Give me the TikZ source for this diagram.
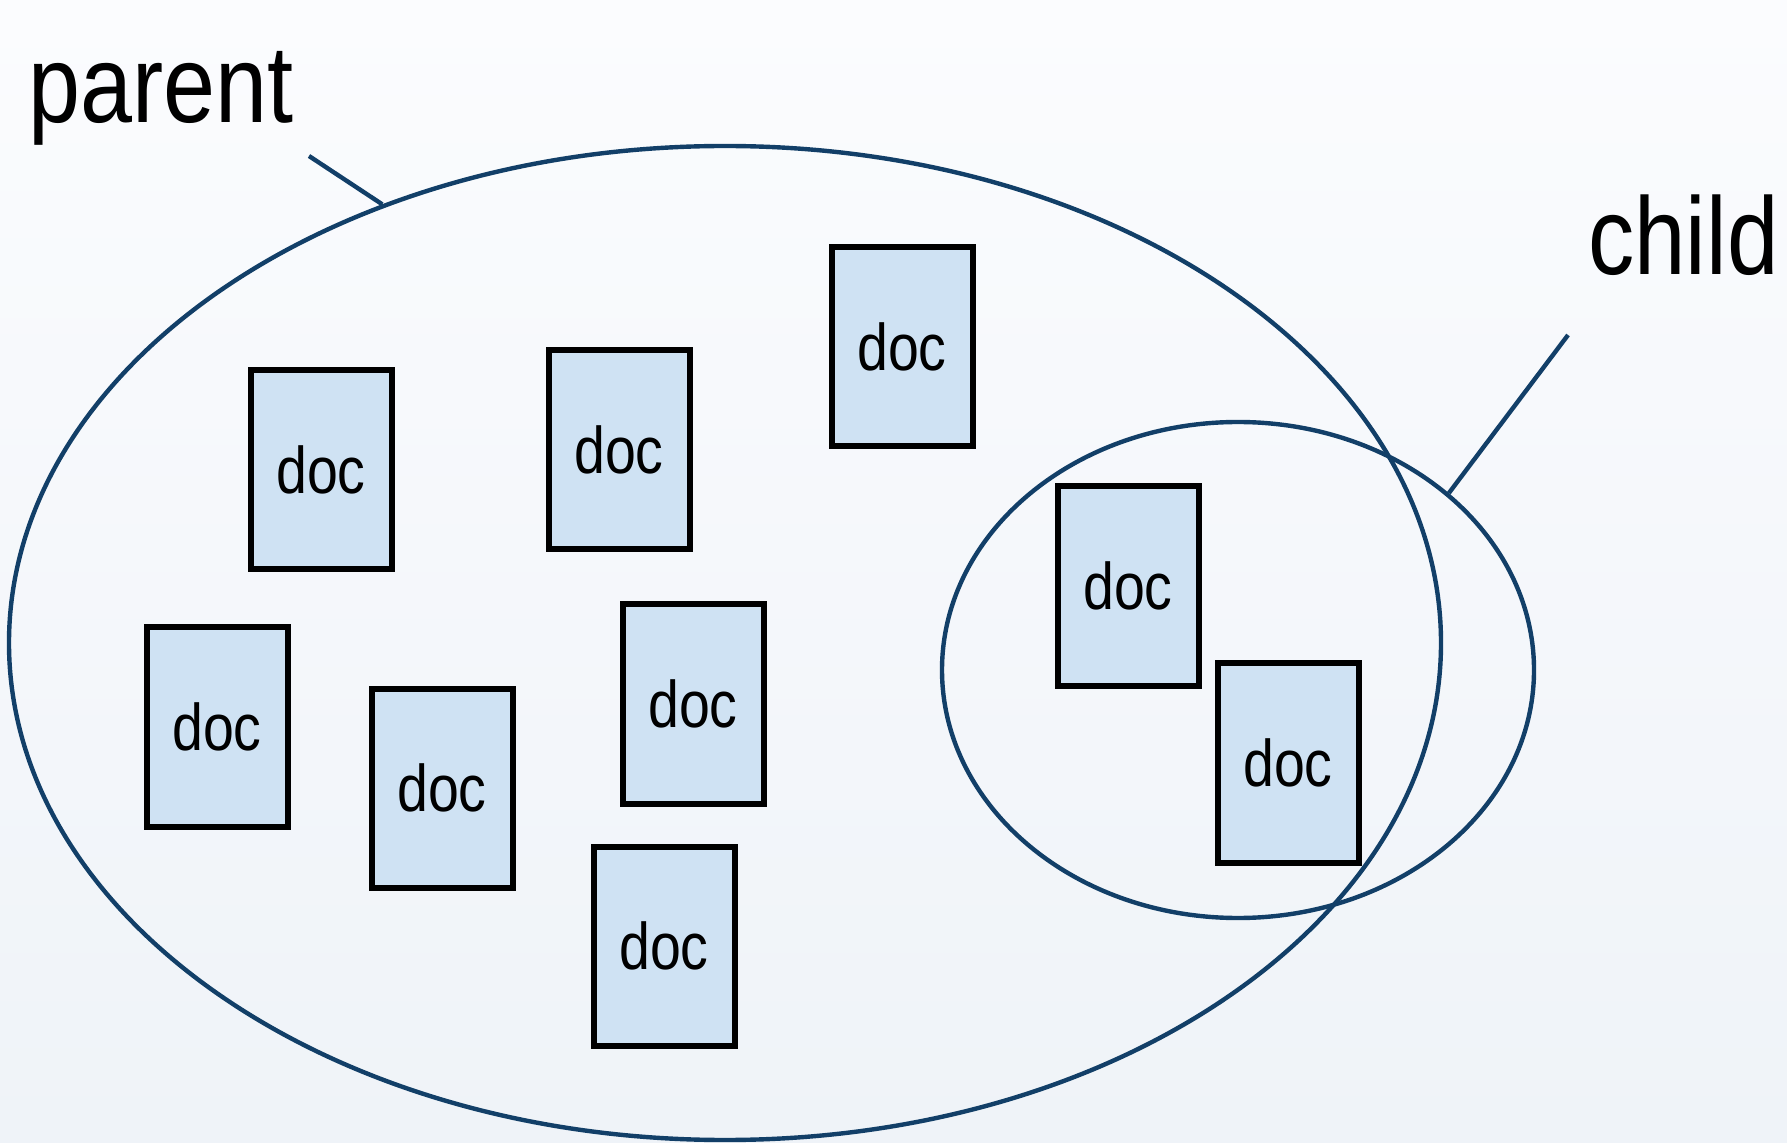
\documentclass[tikz,border=0pt]{standalone}
\usepackage{fontspec}
\setmainfont{Liberation Sans}
\usepackage{graphicx}
\usepackage{tikz}
\usetikzlibrary{shapes.geometric}
\definecolor{setline}{HTML}{123F68}
\definecolor{docfill}{HTML}{CFE2F3}
\definecolor{bgtop}{HTML}{FBFCFE}
\definecolor{bgbottom}{HTML}{EFF3F8}
\newcommand{\narrowtext}[2]{\scalebox{#1}[1]{#2}}

\begin{document}
\begin{tikzpicture}[x=0.5pt, y=-0.5pt]
		\tikzset{setshape/.style={shape = ellipse, draw = setline, line width = 2.2pt, inner sep = 0pt}}
		\tikzset{docbox/.style={shape = rectangle, draw = black, line width = 3pt, fill = docfill,
				minimum width = 70.5pt, minimum height = 99.5pt, inner sep = 0pt,
				font = \fontsize{33}{33}\selectfont}}
		\tikzset{tagtext/.style={anchor = base west, inner sep = 0pt, font = \fontsize{55}{55}\selectfont}}
		\tikzset{pointer/.style={draw = setline, line width = 2.2pt}}
					%background
					\shade[top color = bgtop, bottom color = bgbottom] (0, 0) rectangle (1787, 1143);
					\useasboundingbox (0, 0) rectangle (1787, 1143);
					%sets
					\node[setshape, minimum width = 716pt, minimum height = 497pt] (parentset) at (725, 643) {};
					\node[setshape, minimum width = 296pt, minimum height = 248pt] (childset) at (1238, 670) {};
					%docs
					\node[docbox] (d1) at (321, 470) {\narrowtext{0.84}{doc}};
					\node[docbox] (d2) at (619, 450) {\narrowtext{0.84}{doc}};
					\node[docbox] (d3) at (902, 347) {\narrowtext{0.84}{doc}};
					\node[docbox] (d4) at (217, 727) {\narrowtext{0.84}{doc}};
					\node[docbox] (d5) at (442, 788) {\narrowtext{0.84}{doc}};
					\node[docbox] (d6) at (693, 704) {\narrowtext{0.84}{doc}};
					\node[docbox] (d7) at (664, 946) {\narrowtext{0.84}{doc}};
					\node[docbox] (d8) at (1128, 586) {\narrowtext{0.84}{doc}};
					\node[docbox] (d9) at (1288, 763) {\narrowtext{0.84}{doc}};
					%labels
					\node[tagtext] (parenttag) at (28, 123) {\narrowtext{0.85}{parent}};
					\node[tagtext] (childtag) at (1588, 275) {\narrowtext{0.84}{child}};
					\coordinate (parenttip) at (309, 156);
					\coordinate (childtip) at (1568, 335);
					\draw[pointer] (parenttip) -- (parentset.128.4);
					\draw[pointer] (childtip) -- (childset.40);
					
					\end{tikzpicture}
\end{document}
